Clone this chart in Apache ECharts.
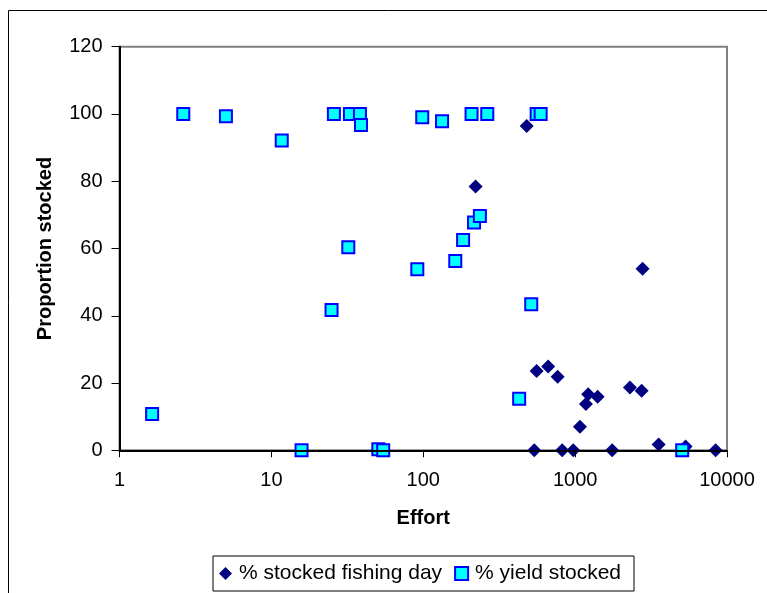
<!DOCTYPE html>
<html>
<head>
<meta charset="utf-8">
<script src="https://cdn.jsdelivr.net/npm/echarts@6/dist/echarts.min.js"></script>
<style>
  html, body { margin: 0; padding: 0; background: #ffffff; }
  #chart { width: 767px; height: 593px; }
</style>
</head>
<body>
<div id="chart"></div>
<script>
// Effort vs. proportion stocked, log-scaled effort axis
const xTickLabels = ['1', '10', '100', '1000', '10000'];
const yTickLabels = ['0', '20', '40', '60', '80', '100', '120'];

const seriesNames = ['% stocked fishing day', '% yield stocked'];

// % stocked fishing day
const fishingDayEffort = [221, 480, 538, 558, 665, 767, 822, 972, 1076, 1178, 1219, 1406, 1754, 2295, 2741, 2781, 3548, 5336, 8414];
const fishingDayPct    = [78.4, 96.4, 0, 23.6, 24.9, 21.9, 0, 0, 7.0, 13.8, 16.7, 15.9, 0, 18.7, 17.7, 54.0, 1.7, 1.1, 0];

// % yield stocked
const yieldEffort = [1.64, 2.63, 5.02, 11.7, 15.8, 24.9, 25.8, 32.1, 32.9, 38.3, 38.9, 50.6, 54.5, 91.4, 98.5, 133, 162.5, 183, 208, 216, 236, 264, 428, 514, 558, 593, 5070];
const yieldPct    = [10.8, 100, 99.3, 92.1, 0, 41.7, 100, 60.4, 100, 100, 96.7, 0.3, 0, 53.8, 99.0, 97.8, 56.3, 62.5, 100, 67.7, 69.7, 100, 15.3, 43.4, 100, 100, 0];

const pairs = (xs, ys) => xs.map((x, i) => [x, ys[i]]);

const FONT = '"Liberation Sans", Arial, sans-serif';

const chart = echarts.init(document.getElementById('chart'), null, { renderer: 'canvas' });

chart.setOption({
  backgroundColor: '#ffffff',
  animation: false,
  textStyle: { fontFamily: FONT, color: '#000000' },
  graphic: [{
    type: 'rect',
    shape: { x: 8.5, y: 10.5, width: 800, height: 620 },
    style: { fill: 'none', stroke: '#000000', lineWidth: 1 },
    silent: true,
    z: -10
  }],
  grid: {
    left: 119.5, top: 46.7, right: 40, bottom: 142.7,
    show: true,
    borderColor: '#808080',
    borderWidth: 2,
    backgroundColor: 'transparent'
  },
  legend: {
    left: 213, top: 556,
    orient: 'horizontal',
    padding: [7, 13, 7, 6],
    itemGap: 12,
    itemWidth: 13, itemHeight: 13,
    borderColor: '#000000', borderWidth: 1,
    backgroundColor: '#ffffff',
    textStyle: { fontFamily: FONT, fontSize: 21, color: '#000000', padding: [0, 0, 0, 2] },
    data: seriesNames
  },
  xAxis: {
    type: 'log',
    logBase: 10,
    min: 1, max: 10000,
    z: 3,
    name: 'Effort',
    nameLocation: 'middle',
    nameGap: 58,
    nameTextStyle: { fontFamily: FONT, fontSize: 20, fontWeight: 'bold', color: '#000000' },
    axisLine: { show: true, onZero: false, lineStyle: { color: '#000000', width: 2 } },
    axisTick: { show: true, inside: false, length: 7, lineStyle: { color: '#000000', width: 1 } },
    minorTick: { show: false },
    axisLabel: {
      margin: 20,
      fontFamily: FONT, fontSize: 20, color: '#000000',
      formatter: v => xTickLabels[Math.round(Math.log10(v))]
    },
    splitLine: { show: false }
  },
  yAxis: {
    type: 'value',
    min: 0, max: 120, interval: 20,
    z: 3,
    name: 'Proportion stocked',
    nameLocation: 'middle',
    nameGap: 64,
    nameTextStyle: { fontFamily: FONT, fontSize: 20, fontWeight: 'bold', color: '#000000' },
    axisLine: { show: true, onZero: false, lineStyle: { color: '#000000', width: 2 } },
    axisTick: { show: true, inside: false, length: 8, lineStyle: { color: '#000000', width: 1 } },
    axisLabel: {
      margin: 17,
      fontFamily: FONT, fontSize: 20, color: '#000000',
      formatter: v => yTickLabels[Math.round(v / 20)]
    },
    splitLine: { show: false }
  },
  series: [
    {
      name: seriesNames[0],
      type: 'scatter',
      symbol: 'diamond',
      symbolSize: 14,
      clip: false,
      itemStyle: { color: '#000080', opacity: 1 },
      data: pairs(fishingDayEffort, fishingDayPct)
    },
    {
      name: seriesNames[1],
      type: 'scatter',
      symbol: 'rect',
      symbolSize: 12,
      clip: false,
      itemStyle: { color: '#00FFFF', borderColor: '#0000FF', borderWidth: 2, opacity: 1 },
      data: pairs(yieldEffort, yieldPct)
    }
  ]
});
</script>
</body>
</html>
